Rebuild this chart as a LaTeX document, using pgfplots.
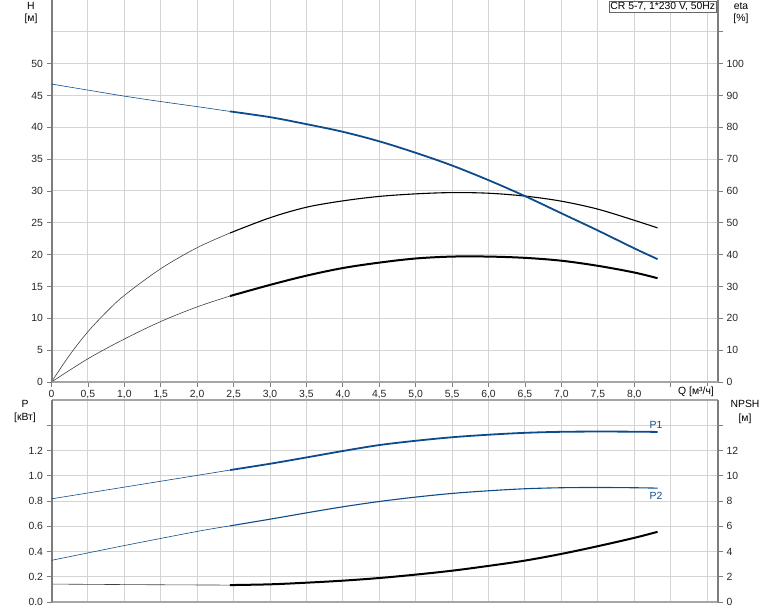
\documentclass[border=0pt]{standalone}
\usepackage{fontspec}
\setmainfont{Liberation Sans}
\usepackage{pgfplots}
\pgfplotsset{compat=1.18}

\definecolor{curveblue}{RGB}{12,76,140}
\definecolor{gridgray}{RGB}{212,212,212}
\definecolor{spinegray}{RGB}{125,125,125}
\definecolor{framegray}{RGB}{165,165,165}

\pgfplotsset{
  pumpbase/.style={
    scale only axis, width=666.5pt, xmin=0, xmax=9.15,
    anchor=south west,
    tick align=outside, major tick length=5pt,
    tick style={spinegray, line width=0.8pt},
    tick label style={font=\fontsize{10.4}{12}\selectfont, text=black!85},
    /pgf/number format/assume math mode=true,
    xtick={0,0.5,1,1.5,2,2.5,3,3.5,4,4.5,5,5.5,6,6.5,7,7.5,8,8.5,9},
    grid style={gridgray, line width=1pt},
    every axis plot/.append style={smooth, tension=0.55},
  },
  gridaxis/.style={
    axis x line*=bottom, axis y line*=right, ytick pos=right,
    x axis line style={draw=none}, xtick style={draw=none}, xticklabels={},
    y axis line style={spinegray, line width=2pt},
    grid=major,
  },
  thinline/.style={line width=0.6pt},
}
\newcommand{\lbl}{\fontsize{10.4}{12}\selectfont}

\begin{document}
\begin{tikzpicture}[x=1pt,y=1pt]
\useasboundingbox (0,0) rectangle (774,611);

% ---------- top: eta (right axis, carries the grid)
\begin{axis}[pumpbase, gridaxis, height=382pt, at={(51.5pt,229pt)},
  ymin=0, ymax=120, ytick={0,10,...,110},
  yticklabels={0,10,20,30,40,50,60,70,80,90,100,{}}]
% pump efficiency
\addplot[black!75, thinline] coordinates {
  (0,0)(0.25,8.5)(0.5,15.8)(0.75,21.9)(1.0,27.2)(1.5,35.6)(2.0,42.2)(2.45,46.8)};
\addplot[black, line width=1.1pt] coordinates {
  (2.45,46.8)(3.0,51.6)(3.5,54.9)(4.0,56.9)(4.5,58.3)(5.0,59.1)(5.5,59.5)
  (6.0,59.3)(6.5,58.4)(7.0,56.8)(7.5,54.3)(8.0,50.8)(8.32,48.4)};
% total efficiency
\addplot[black!75, thinline] coordinates {
  (0,0)(0.5,7.3)(1.0,13.5)(1.5,19.0)(2.0,23.6)(2.45,27.0)};
\addplot[black, line width=2pt] coordinates {
  (2.45,27.0)(3.0,30.5)(3.5,33.4)(4.0,35.8)(4.5,37.5)(5.0,38.8)(5.5,39.4)
  (6.0,39.4)(6.5,39.0)(7.0,38.1)(7.5,36.5)(8.0,34.4)(8.32,32.6)};
\end{axis}

% ---------- top: H (left axis)
\begin{axis}[pumpbase, height=382pt, at={(51.5pt,229pt)},
  ymin=0, ymax=60, ytick={0,5,...,50},
  yticklabels={0,5,10,15,20,25,30,35,40,45,50},
  xticklabels={0,{0,5},{1,0},{1,5},{2,0},{2,5},{3,0},{3,5},{4,0},{4,5},
    {5,0},{5,5},{6,0},{6,5},{7,0},{7,5},{8,0},{},{}},
  axis x line*=bottom, axis y line*=left, xtick pos=bottom, ytick pos=left,
  x axis line style={framegray, line width=2pt},
  y axis line style={spinegray, line width=2pt},
  clip=false]
\addplot[curveblue, thinline] coordinates {
  (0,46.8)(0.5,45.85)(1.0,44.9)(1.5,44.05)(2.0,43.25)(2.45,42.5)};
\addplot[curveblue, line width=1.8pt] coordinates {
  (2.45,42.5)(3.0,41.6)(3.5,40.5)(4.0,39.3)(4.5,37.8)(5.0,36.0)(5.5,34.0)
  (6.0,31.7)(6.5,29.2)(7.0,26.5)(7.5,23.8)(8.0,21.0)(8.32,19.3)};
\node[anchor=north east, draw=black!60, fill=white, inner sep=1.5pt,
  font=\lbl, line width=0.6pt] at (rel axis cs:0.9985,0.998) {CR 5-7, 1*230 V, 50Hz};
\end{axis}

% ---------- bottom: NPSH (right axis, carries the grid)
\begin{axis}[pumpbase, gridaxis, height=202pt, at={(51.5pt,9pt)},
  ymin=0, ymax=16, ytick={0,2,...,14},
  yticklabels={0,2,4,6,8,10,12,{}}]
\addplot[black!75, thinline] coordinates {
  (0,1.42)(1.0,1.38)(2.0,1.35)(2.45,1.34)};
\addplot[black, line width=2pt] coordinates {
  (2.45,1.34)(3.0,1.40)(3.5,1.53)(4.0,1.69)(4.5,1.90)(5.0,2.17)(5.5,2.48)
  (6.0,2.86)(6.5,3.28)(7.0,3.81)(7.5,4.42)(8.0,5.08)(8.32,5.56)};
\end{axis}

% ---------- bottom: P (left axis)
\begin{axis}[pumpbase, height=202pt, at={(51.5pt,9pt)},
  ymin=0, ymax=1.6, ytick={0,0.2,0.4,0.6,0.8,1.0,1.2,1.4},
  yticklabels={0.0,0.2,0.4,0.6,0.8,1.0,1.2,{}},
  xticklabels={}, xtick style={draw=none}, ytick pos=left,
  separate axis lines,
  x axis line style={framegray, line width=2pt},
  y axis line style={spinegray, line width=2pt},
  clip=false]
\addplot[curveblue, thinline] coordinates {
  (0,0.817)(1.0,0.910)(2.0,1.003)(2.45,1.045)};
\addplot[curveblue, line width=1.8pt] coordinates {
  (2.45,1.045)(3.0,1.095)(3.5,1.145)(4.0,1.196)(4.5,1.243)(5.0,1.277)(5.5,1.305)
  (6.0,1.325)(6.5,1.340)(7.0,1.348)(7.5,1.350)(8.0,1.349)(8.32,1.347)};
\addplot[curveblue, thinline] coordinates {
  (0,0.330)(1.0,0.447)(2.0,0.559)(2.45,0.603)};
\addplot[curveblue, line width=1.1pt] coordinates {
  (2.45,0.603)(3.0,0.656)(3.5,0.706)(4.0,0.754)(4.5,0.796)(5.0,0.831)(5.5,0.860)
  (6.0,0.881)(6.5,0.897)(7.0,0.905)(7.5,0.907)(8.0,0.905)(8.32,0.902)};
\end{axis}

% ---------- axis titles and curve names
\node[font=\lbl] at (31,605) {H};
\node[font=\lbl] at (31,592) {[м]};
\node[font=\lbl] at (741,605) {eta};
\node[font=\lbl] at (741,592) {[\%]};
\node[font=\lbl, fill=white, inner sep=1pt] at (696,219) {Q [м³/ч]};
\node[font=\lbl] at (25,207) {P};
\node[font=\lbl] at (25,193) {[кВт]};
\node[font=\lbl] at (745,207) {NPSH};
\node[font=\lbl] at (745,192) {[м]};
\node[font=\lbl, text=curveblue] at (656,186) {P1};
\node[font=\lbl, text=curveblue] at (656,115) {P2};
\end{tikzpicture}
\end{document}
